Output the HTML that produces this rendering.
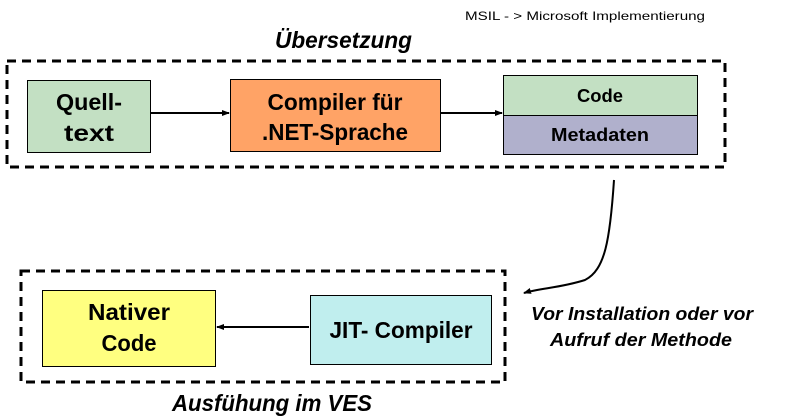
<!DOCTYPE html>
<html><head><meta charset="utf-8"><style>
html,body{margin:0;padding:0;background:#fff;}
svg{display:block}
text{font-family:"Liberation Sans",sans-serif;font-weight:bold;fill:#000}
</style></head><body>
<svg width="787" height="418" viewBox="0 0 787 418" xmlns="http://www.w3.org/2000/svg">
<defs><marker id="ah" markerWidth="8" markerHeight="8" refX="7" refY="4" orient="auto" markerUnits="userSpaceOnUse"><path d="M0,1 L8,4 L0,7 Z" fill="#000"/></marker></defs>
<text x="465" y="20" font-size="12" style="font-weight:normal" textLength="240" lengthAdjust="spacingAndGlyphs">MSIL - &gt; Microsoft Implementierung</text>
<text x="275" y="48" font-size="23" font-style="italic" textLength="137" lengthAdjust="spacingAndGlyphs">Übersetzung</text>
<rect x="7" y="61" width="718" height="106" fill="none" stroke="#000" stroke-width="3" stroke-dasharray="9,6"/>
<rect x="27.5" y="80.5" width="123" height="72" fill="#c3e0c3" stroke="#000"/>
<text x="89" y="110" font-size="23" text-anchor="middle" textLength="66" lengthAdjust="spacingAndGlyphs">Quell-</text>
<text x="89" y="141" font-size="23" text-anchor="middle" textLength="50" lengthAdjust="spacingAndGlyphs">text</text>
<line x1="151" y1="113" x2="229" y2="113" stroke="#000" stroke-width="2" marker-end="url(#ah)"/>
<rect x="230.5" y="79.5" width="210" height="72" fill="#ffa366" stroke="#000"/>
<text x="335" y="110" font-size="23" text-anchor="middle" textLength="135" lengthAdjust="spacingAndGlyphs">Compiler für</text>
<text x="335" y="140" font-size="23" text-anchor="middle" textLength="146" lengthAdjust="spacingAndGlyphs">.NET-Sprache</text>
<line x1="441" y1="113" x2="502" y2="113" stroke="#000" stroke-width="2" marker-end="url(#ah)"/>
<rect x="503.5" y="75.5" width="194" height="40" fill="#c3e0c3" stroke="#000"/>
<rect x="503.5" y="115.5" width="194" height="39" fill="#b0b0cc" stroke="#000"/>
<text x="600" y="102" font-size="18" text-anchor="middle" textLength="46" lengthAdjust="spacingAndGlyphs">Code</text>
<text x="600" y="141" font-size="18" text-anchor="middle" textLength="98" lengthAdjust="spacingAndGlyphs">Metadaten</text>
<path d="M614,180 C610,240 605,270 585,280 C560,288 540,288 524,293" fill="none" stroke="#000" stroke-width="2" marker-end="url(#ah)"/>
<rect x="21" y="271" width="484" height="111" fill="none" stroke="#000" stroke-width="3" stroke-dasharray="9,6"/>
<rect x="42.5" y="290.5" width="173" height="76" fill="#ffff80" stroke="#000"/>
<text x="129" y="320" font-size="23" text-anchor="middle" textLength="82" lengthAdjust="spacingAndGlyphs">Nativer</text>
<text x="129" y="351" font-size="23" text-anchor="middle" textLength="55" lengthAdjust="spacingAndGlyphs">Code</text>
<line x1="309" y1="327" x2="217" y2="327" stroke="#000" stroke-width="2" marker-end="url(#ah)"/>
<rect x="310.5" y="295.5" width="181" height="69" fill="#c0eeee" stroke="#000"/>
<text x="401" y="338" font-size="23" text-anchor="middle" textLength="143" lengthAdjust="spacingAndGlyphs">JIT- Compiler</text>
<text x="642" y="320" font-size="18" font-style="italic" text-anchor="middle" textLength="222" lengthAdjust="spacingAndGlyphs">Vor Installation oder vor</text>
<text x="641" y="346" font-size="18" font-style="italic" text-anchor="middle" textLength="182" lengthAdjust="spacingAndGlyphs">Aufruf der Methode</text>
<text x="272" y="411" font-size="23" font-style="italic" text-anchor="middle" textLength="200" lengthAdjust="spacingAndGlyphs">Ausfühung im VES</text>
</svg>
</body></html>
